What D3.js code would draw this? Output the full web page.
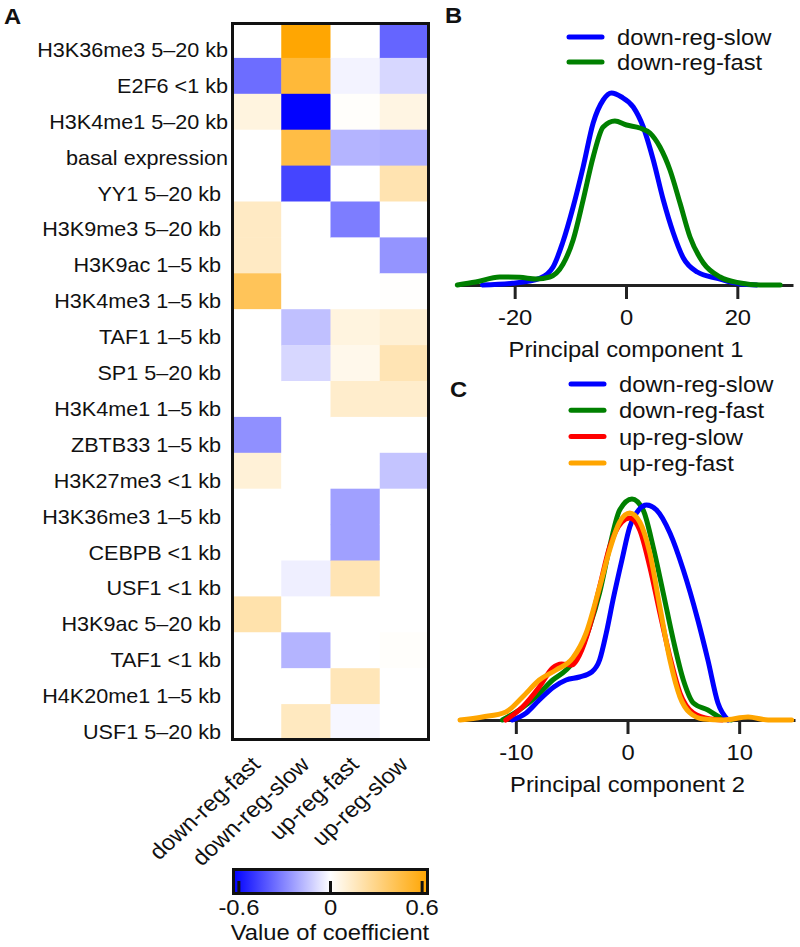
<!DOCTYPE html>
<html>
<head>
<meta charset="utf-8">
<script src="https://cdn.jsdelivr.net/npm/d3@7"></script>
<style>
  body { margin: 0; background: #fff; }
  text { font-family: "Liberation Sans", Arial, sans-serif; fill: #111; }
</style>
</head>
<body>
<div id="chart"></div>
<script>
/*---------- DATA ----------*/
// Panel A: regression coefficients, one array per column
const rowLabels = [
  "H3K36me3 5–20 kb",
  "E2F6 <1 kb",
  "H3K4me1 5–20 kb",
  "basal expression",
  "YY1 5–20 kb",
  "H3K9me3 5–20 kb",
  "H3K9ac 1–5 kb",
  "H3K4me3 1–5 kb",
  "TAF1 1–5 kb",
  "SP1 5–20 kb",
  "H3K4me1 1–5 kb",
  "ZBTB33 1–5 kb",
  "H3K27me3 <1 kb",
  "H3K36me3 1–5 kb",
  "CEBPB <1 kb",
  "USF1 <1 kb",
  "H3K9ac 5–20 kb",
  "TAF1 <1 kb",
  "H4K20me1 1–5 kb",
  "USF1 5–20 kb",
];
const colLabels = ["down-reg-fast", "down-reg-slow", "up-reg-fast", "up-reg-slow"];

const coefDownFast = [0, -0.37, 0.08, 0, 0, 0.15, 0.15, 0.42, 0, 0, 0, -0.28, 0.1, 0, 0, 0, 0.21, 0, 0, 0];
const coefDownSlow = [0.64, 0.5, -0.64, 0.47, -0.47, 0, 0, 0, -0.16, -0.1, 0, 0, 0, 0, 0, -0.04, 0, -0.19, 0, 0.16];
const coefUpFast = [0, -0.03, 0.01, -0.19, 0, -0.33, 0, 0, 0.08, 0.05, 0.13, 0, 0, -0.24, -0.24, 0.19, 0, 0, 0.18, -0.02];
const coefUpSlow = [-0.39, -0.1, 0.07, -0.2, 0.2, 0, -0.27, 0.005, 0.11, 0.19, 0.13, 0, -0.15, 0, 0, 0, 0, 0.01, 0, 0];

const colorTicks = [-0.6, 0, 0.6];

// Panel B: density along principal component 1
const pc1Ticks = [-20, 0, 20];
const pc1SlowX = [-25.8, -20.4, -15.5, -13.1, -11.4, -9.5, -7.7, -5.9, -4.1, -2.6, -0.8, 1.3, 3.1, 4.9, 6.7, 8.5, 10.3, 12.8, 16.4, 20.5, 23.5];
const pc1SlowY = [0, 0.0005, 0.002, 0.0054, 0.0126, 0.0234, 0.0354, 0.0486, 0.0555, 0.0576, 0.0564, 0.0534, 0.0474, 0.0375, 0.0255, 0.0156, 0.0081, 0.0039, 0.002, 0.0003, 0];
const pc1FastX = [-30.3, -27, -22.7, -19.1, -16.1, -13.7, -11.3, -9.5, -7.7, -5.9, -4.1, -2.0, 0.1, 2.5, 4.3, 6.1, 7.9, 9.7, 11.5, 13.9, 16.9, 20.5, 24.1, 27.7];
const pc1FastY = [0, 0.0009, 0.0024, 0.0023, 0.0018, 0.0024, 0.0063, 0.0135, 0.0255, 0.0384, 0.0474, 0.0492, 0.048, 0.0471, 0.0456, 0.0414, 0.0345, 0.0246, 0.0144, 0.0066, 0.0024, 0.0006, 0, 0];

// Panel C: density along principal component 2
const pc2Ticks = [-10, 0, 10];
const pc2DownSlowX = [-10.3, -9.1, -7.9, -6.6, -5.5, -4.3, -3.2, -2.5, -1.9, -1.3, -0.5, 0.2, 1.0, 1.7, 2.6, 3.8, 5.0, 6.3, 7.2, 8.1, 9.0];
const pc2DownSlowY = [0, 0.0034, 0.01, 0.0165, 0.02, 0.0215, 0.024, 0.03, 0.0435, 0.06, 0.08, 0.0965, 0.105, 0.1075, 0.105, 0.0935, 0.075, 0.05, 0.03, 0.0085, 0];
const pc2DownFastX = [-11.2, -9.7, -8.2, -6.7, -5.5, -4.3, -3.4, -2.5, -1.6, -0.7, 0.4, 1.4, 2.3, 3.2, 4.1, 5.0, 5.9, 7.2, 8.4, 9.3];
const pc2DownFastY = [0, 0.005, 0.0115, 0.02, 0.025, 0.0335, 0.0465, 0.0635, 0.0865, 0.105, 0.1105, 0.105, 0.0865, 0.0635, 0.04, 0.02, 0.0085, 0.005, 0.001, 0];
const pc2UpSlowX = [-10.9, -9.4, -7.9, -6.7, -5.9, -5.0, -4.3, -3.4, -2.5, -1.6, -0.5, 0.2, 1.1, 2.0, 2.9, 3.8, 4.7, 5.9, 7.4, 8.5];
const pc2UpSlowY = [0, 0.0065, 0.0165, 0.026, 0.028, 0.0275, 0.0325, 0.0465, 0.0665, 0.0865, 0.099, 0.101, 0.095, 0.0765, 0.0535, 0.0315, 0.0135, 0.0035, 0.0005, 0];
const pc2UpFastX = [-15.0, -13.0, -10.9, -9.4, -7.9, -6.4, -4.9, -3.7, -2.5, -1.6, -0.7, 0.2, 1.1, 2.0, 2.9, 3.8, 4.7, 5.6, 6.8, 8.6, 10.8, 12.6, 14.7];
const pc2UpFastY = [0, 0.0015, 0.004, 0.0115, 0.02, 0.025, 0.031, 0.0435, 0.0665, 0.085, 0.099, 0.1035, 0.099, 0.0835, 0.0565, 0.03, 0.0115, 0.0035, 0.0005, 0, 0.0015, 0, 0];

/*---------- SETUP ----------*/
const width = 800;
const height = 947;
const stretch = 1.08; // the original figure is slightly wider than tall

const svg = d3
  .select("#chart")
  .append("svg")
  .attr("width", width)
  .attr("height", height);

/**
 * Helper to write a (horizontally stretched) text
 */
function addText(parent, x, y, str, size, anchor, weight, rotate) {
  return parent
    .append("text")
    .attr("transform", `translate(${x},${y}) scale(${stretch},1)` + (rotate ? ` rotate(${rotate})` : ""))
    .attr("font-size", size)
    .attr("font-weight", weight || "normal")
    .attr("text-anchor", anchor || "start")
    .text(str);
}

/*---------- PANEL A: HEATMAP ----------*/
const columns = [coefDownFast, coefDownSlow, coefUpFast, coefUpSlow];

const x = d3.scaleBand().domain(colLabels).range([232, 429]);
const y = d3.scaleBand().domain(rowLabels).range([22, 740]);
const color = d3
  .scaleLinear()
  .domain([-0.645, 0, 0.645])
  .range(["#0000ff", "#ffffff", "#ffa500"])
  .clamp(true);

const cells = [];
columns.forEach((col, j) => {
  col.forEach((v, i) => {
    cells.push({ row: rowLabels[i], col: colLabels[j], value: v });
  });
});

const heat = svg.append("g");
heat
  .selectAll("rect.cell")
  .data(cells)
  .join("rect")
  .attr("class", "cell")
  .attr("x", (d) => x(d.col))
  .attr("y", (d) => y(d.row))
  .attr("width", x.bandwidth() + 0.5)
  .attr("height", y.bandwidth() + 0.5)
  .attr("fill", (d) => color(d.value));

// frame
heat
  .append("rect")
  .attr("x", 232.5)
  .attr("y", 23.5)
  .attr("width", 196)
  .attr("height", 716)
  .attr("fill", "none")
  .attr("stroke", "#111")
  .attr("stroke-width", 3);

// row labels (baseline close to the bottom of each row)
rowLabels.forEach((r, i) => {
  addText(heat, i < 4 ? 228 : 221, y(r) + y.bandwidth() - 1, r, 20, "end");
});

// column labels
colLabels.forEach((c) => {
  addText(heat, x(c) + x.bandwidth() / 2 + 5, 766, c, 22, "end", "normal", -45);
});

// colour bar
const cbar = d3.scaleLinear().domain([-0.645, 0.645]).range([232, 429]);
const grad = svg
  .append("defs")
  .append("linearGradient")
  .attr("id", "cbar-grad")
  .attr("x1", "0%")
  .attr("x2", "100%");
d3.range(0, 1.0001, 0.05).forEach((t) => {
  grad
    .append("stop")
    .attr("offset", `${t * 100}%`)
    .attr("stop-color", color(-0.645 + t * 1.29));
});

heat
  .append("rect")
  .attr("x", 233.5)
  .attr("y", 869.5)
  .attr("width", 194)
  .attr("height", 24)
  .attr("fill", "url(#cbar-grad)")
  .attr("stroke", "#111")
  .attr("stroke-width", 3);

heat
  .selectAll("line.cbtick")
  .data(colorTicks)
  .join("line")
  .attr("class", "cbtick")
  .attr("x1", (d) => cbar(d))
  .attr("x2", (d) => cbar(d))
  .attr("y1", 893)
  .attr("y2", 881)
  .attr("stroke", "#111")
  .attr("stroke-width", 3);

colorTicks.forEach((t) => {
  addText(heat, cbar(t), 915, String(t), 22, "middle");
});
addText(heat, 330, 940, "Value of coefficient", 22, "middle");

addText(svg, 4, 24, "A", 22, "start", "bold");

/*---------- PANELS B & C: DENSITIES ----------*/
function drawDensity(opts) {
  const g = svg.append("g");
  const xs = d3.scaleLinear().domain(opts.domain).range(opts.range);
  const ys = d3.scaleLinear().domain([0, opts.yMax]).range([opts.base, opts.top]);

  const axis = d3
    .axisBottom(xs)
    .tickValues(opts.ticks)
    .tickFormat((d) => String(d))
    .tickSize(14)
    .tickSizeOuter(0)
    .tickPadding(10);

  const ax = g.append("g").attr("transform", `translate(0,${opts.base})`).call(axis);
  ax.select(".domain").attr("stroke", "#222").attr("stroke-width", 3);
  ax.selectAll(".tick line").attr("stroke", "#222").attr("stroke-width", 3);
  ax.selectAll(".tick text")
    .attr("font-size", 22)
    .attr("font-family", "Liberation Sans, Arial, sans-serif")
    .attr("fill", "#111")
    .attr("transform", `scale(${stretch},1)`);

  addText(g, (opts.range[0] + opts.range[1]) / 2, opts.base + 72, opts.title, 22, "middle");

  const line = d3
    .line()
    .x((d) => xs(d[0]))
    .y((d) => ys(d[1]))
    .curve(d3.curveMonotoneX);

  opts.series.forEach((s) => {
    g.append("path")
      .datum(d3.zip(s.x, s.y))
      .attr("d", line)
      .attr("fill", "none")
      .attr("stroke", s.color)
      .attr("stroke-width", 5)
      .attr("stroke-linejoin", "round")
      .attr("stroke-linecap", "round");
  });

  // legend
  opts.legend.forEach((s, i) => {
    const ly = opts.legendY + i * opts.legendStep;
    g.append("line")
      .attr("x1", opts.legendX)
      .attr("x2", opts.legendX + 33)
      .attr("y1", ly)
      .attr("y2", ly)
      .attr("stroke", s.color)
      .attr("stroke-width", 5)
      .attr("stroke-linecap", "round");
    addText(g, opts.legendX + 48, ly + 8, s.name, 22, "start");
  });
}

const blue = "#0000ff";
const green = "#008000";
const red = "#ff0000";
const orange = "#ffa500";

drawDensity({
  domain: [-30, 30],
  range: [459, 793],
  base: 285,
  top: 85,
  yMax: 0.06,
  ticks: pc1Ticks,
  title: "Principal component 1",
  series: [
    { x: pc1SlowX, y: pc1SlowY, color: blue },
    { x: pc1FastX, y: pc1FastY, color: green },
  ],
  legend: [
    { name: "down-reg-slow", color: blue },
    { name: "down-reg-fast", color: green },
  ],
  legendX: 569,
  legendY: 37,
  legendStep: 25,
});
addText(svg, 445, 23, "B", 22, "start", "bold");

drawDensity({
  domain: [-15, 15],
  range: [460, 795],
  base: 720,
  top: 500,
  yMax: 0.11,
  ticks: pc2Ticks,
  title: "Principal component 2",
  series: [
    { x: pc2DownFastX, y: pc2DownFastY, color: green },
    { x: pc2DownSlowX, y: pc2DownSlowY, color: blue },
    { x: pc2UpSlowX, y: pc2UpSlowY, color: red },
    { x: pc2UpFastX, y: pc2UpFastY, color: orange },
  ],
  legend: [
    { name: "down-reg-slow", color: blue },
    { name: "down-reg-fast", color: green },
    { name: "up-reg-slow", color: red },
    { name: "up-reg-fast", color: orange },
  ],
  legendX: 571,
  legendY: 384,
  legendStep: 26.3,
});
addText(svg, 450, 397, "C", 22, "start", "bold");
</script>
</body>
</html>
